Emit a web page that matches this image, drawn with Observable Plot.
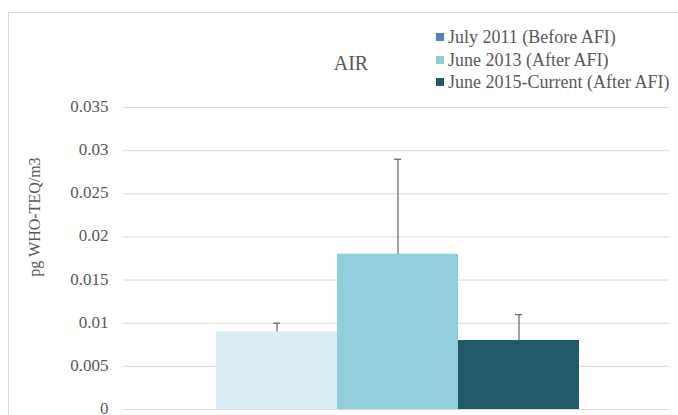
<!DOCTYPE html>
<html>
<head>
<meta charset="utf-8">
<script src="https://cdn.jsdelivr.net/npm/d3@7"></script>
<script src="https://cdn.jsdelivr.net/npm/@observablehq/plot@0.6"></script>
<style>
  html, body { margin: 0; padding: 0; background: #fff; }
  #wrap { position: relative; width: 678px; height: 415px; overflow: hidden; font-family: "Liberation Serif", "Times New Roman", serif; color: #595959; }
  #border { position: absolute; left: 8px; top: 12px; width: 700px; height: 420px; border: 1px solid #d9d9d9; box-sizing: border-box; }
  #chart { position: absolute; left: 0; top: 0; }
  #title { position: absolute; left: 300px; width: 102px; text-align: center; top: 52px; font-size: 20px; }
  #ylabel { position: absolute; left: 35px; top: 217px; font-size: 16px; transform: translate(-50%, -50%) rotate(-90deg); white-space: nowrap; }
  #legend { position: absolute; left: 436px; top: 26px; font-size: 18px; line-height: 22.5px; }
  #legend div { display: flex; align-items: center; white-space: nowrap; }
  #legend span.sw { display: inline-block; width: 8px; height: 8px; margin-right: 4px; }
</style>
</head>
<body>
<div id="wrap">
  <div id="border"></div>
  <div id="chart"></div>
  <div id="title"></div>
  <div id="ylabel"></div>
  <div id="legend"></div>
</div>
<script>
const title = "AIR";
const yLabel = "pg WHO-TEQ/m3";
const series = ["July 2011 (Before AFI)", "June 2013 (After AFI)", "June 2015-Current (After AFI)"];
const values = [0.009, 0.018, 0.008];
const errorsUpper = [0.010, 0.029, 0.011];
const barColors = ["#daedf4", "#92cddc", "#215968"];
const legendColors = ["#4f81bd", "#92cddc", "#215968"];
const yTicks = [0, 0.005, 0.01, 0.015, 0.02, 0.025, 0.03, 0.035];
const yTickLabels = ["0", "0.005", "0.01", "0.015", "0.02", "0.025", "0.03", "0.035"];

const data = series.map((s, i) => ({series: s, value: values[i], upper: errorsUpper[i], color: barColors[i]}));

const plot = Plot.plot({
  width: 678,
  height: 415,
  marginLeft: 123,
  marginRight: 9,
  marginTop: 107,
  marginBottom: 6,
  style: {fontFamily: "Liberation Serif, Times New Roman, serif", fontSize: "17px", color: "#595959", background: "transparent"},
  x: {type: "band", domain: series, range: [215, 579], padding: 0, axis: null},
  y: {domain: [0, 0.035], label: null},
  marks: [
    Plot.gridY(yTicks, {stroke: "#d9d9d9", strokeOpacity: 1, strokeWidth: 1}),
    Plot.axisY(yTicks, {tickSize: 0, tickPadding: 15, tickFormat: (d, i) => yTickLabels[i], fill: "#595959", label: null, fontSize: 17, dy: -1}),
    Plot.barY(data, {x: "series", y: "value", fill: "color"}),
    Plot.ruleX(data, {x: "series", y1: "value", y2: "upper", stroke: "#6f6f6f", strokeWidth: 1.3}),
    Plot.tickY(data, {x: "series", y: "upper", stroke: "#6f6f6f", strokeWidth: 1.3, insetLeft: 57, insetRight: 57})
  ]
});
document.getElementById("chart").appendChild(plot);
document.getElementById("title").textContent = title;
document.getElementById("ylabel").textContent = yLabel;
const leg = document.getElementById("legend");
series.forEach((s, i) => {
  const row = document.createElement("div");
  const sw = document.createElement("span");
  sw.className = "sw";
  sw.style.background = legendColors[i];
  row.appendChild(sw);
  row.appendChild(document.createTextNode(s));
  leg.appendChild(row);
});
</script>
</body>
</html>
